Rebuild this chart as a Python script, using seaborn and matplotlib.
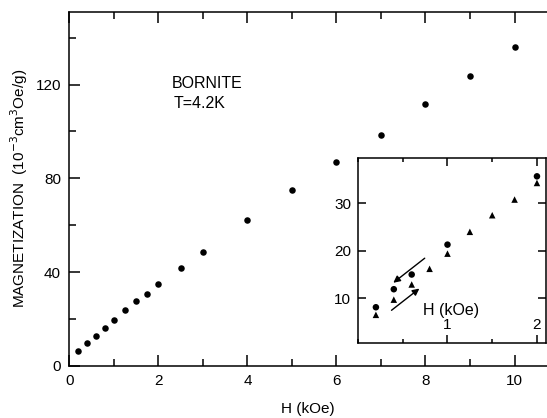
import matplotlib
matplotlib.use("Agg")
import matplotlib.pyplot as plt
from matplotlib.ticker import MultipleLocator
import pandas as pd
import seaborn as sns

# main curve: H in kOe, M in 1e-3 cm3 Oe/g
h_main = [0.2, 0.4, 0.6, 0.8, 1.0, 1.25, 1.5, 1.75, 2.0, 2.5, 3.0, 4.0,
          5.0, 6.0, 7.0, 8.0, 9.0, 10.0]
m_main = [6.3, 9.6, 12.8, 16.0, 19.5, 23.9, 27.6, 30.8, 35.0, 41.7, 48.4, 62.2,
          74.9, 86.9, 98.6, 111.6, 123.6, 136.2]

# inset: low field, field going up (triangles) and coming down (circles)
h_up = [0.2, 0.4, 0.6, 0.8, 1.0, 1.25, 1.5, 1.75, 2.0]
m_up = [6.5, 9.7, 12.9, 16.2, 19.4, 24.0, 27.5, 30.8, 34.3]
h_down = [0.2, 0.4, 0.6, 1.0, 2.0]
m_down = [8.1, 11.9, 15.0, 21.3, 35.7]

sns.set_style("ticks")
plt.rcParams['font.family'] = ['Liberation Sans', 'DejaVu Sans']
plt.rcParams['axes.linewidth'] = 1.1
plt.rcParams['text.color'] = 'black'
plt.rcParams['axes.labelcolor'] = 'black'

df_main = pd.DataFrame({'H': h_main, 'M': m_main})
df_in = pd.DataFrame({
    'H': h_up + h_down,
    'M': m_up + m_down,
    'sweep': ['up'] * len(h_up) + ['down'] * len(h_down),
})

fig = plt.figure(figsize=(5.47, 4.18), dpi=100)
ax = fig.add_axes([0.1267, 0.1251, 0.8733, 0.8462])

sns.scatterplot(data=df_main, x='H', y='M', ax=ax, color='black', s=22,
                linewidth=0, legend=False)
ax.set_xlim(0, 10.73)
ax.set_ylim(0, 151)
ax.xaxis.set_major_locator(MultipleLocator(2))
ax.xaxis.set_minor_locator(MultipleLocator(1))
ax.yaxis.set_major_locator(MultipleLocator(40))
ax.yaxis.set_minor_locator(MultipleLocator(20))
ax.tick_params(which='both', direction='in', top=True, right=False,
               colors='black', labelsize=11)
ax.tick_params(which='major', length=8, width=1.1, pad=6)
ax.tick_params(which='minor', length=5, width=1.1)
ax.spines['right'].set_visible(False)
for s in ['left', 'top', 'bottom']:
    ax.spines[s].set_color('black')
ax.set_xlabel('H (kOe)', fontsize=11, labelpad=10, color='black')
ax.set_ylabel('MAGNETIZATION  (10$^{-3}$cm$^{3}$Oe/g)', fontsize=11,
              labelpad=4, color='black')
ax.text(2.3, 120.5, 'BORNITE', fontsize=11.5, va='center', ha='left',
        color='black')
ax.text(2.35, 112, 'T=4.2K', fontsize=11.5, va='center', ha='left',
        color='black')

# inset
ax_in = fig.add_axes([0.6545, 0.1787, 0.3435, 0.4426])
ax_in.set_facecolor('white')
sns.scatterplot(data=df_in, x='H', y='M', style='sweep', ax=ax_in,
                markers={'up': '^', 'down': 'o'}, color='black', s=22,
                linewidth=0, legend=False)
ax_in.set_xlim(0, 2.1)
ax_in.set_ylim(0.5, 39.5)
ax_in.xaxis.set_major_locator(MultipleLocator(1))
ax_in.xaxis.set_minor_locator(MultipleLocator(0.5))
ax_in.yaxis.set_major_locator(MultipleLocator(10))
ax_in.tick_params(which='both', direction='in', top=True, right=True,
                  colors='black', labelsize=11)
ax_in.tick_params(which='major', length=6, width=1.1)
ax_in.tick_params(which='minor', length=3, width=1.1)
ax_in.tick_params(axis='x', pad=-18)
ax_in.tick_params(axis='y', pad=5)
ax_in.set_xticks([1, 2])
ax_in.set_xlabel('')
ax_in.set_ylabel('')
for s in ax_in.spines.values():
    s.set_color('black')
ax_in.text(0.73, 7.5, 'H (kOe)', fontsize=11.5, va='center', ha='left',
           color='black')
ax_in.annotate('', xy=(0.37, 12.9), xytext=(0.77, 18.8),
               arrowprops=dict(arrowstyle='-|>', color='black', lw=1,
                               mutation_scale=10))
ax_in.annotate('', xy=(0.71, 12.4), xytext=(0.35, 7.1),
               arrowprops=dict(arrowstyle='-|>', color='black', lw=1,
                               mutation_scale=10))

fig.savefig('out.png', dpi=100)
